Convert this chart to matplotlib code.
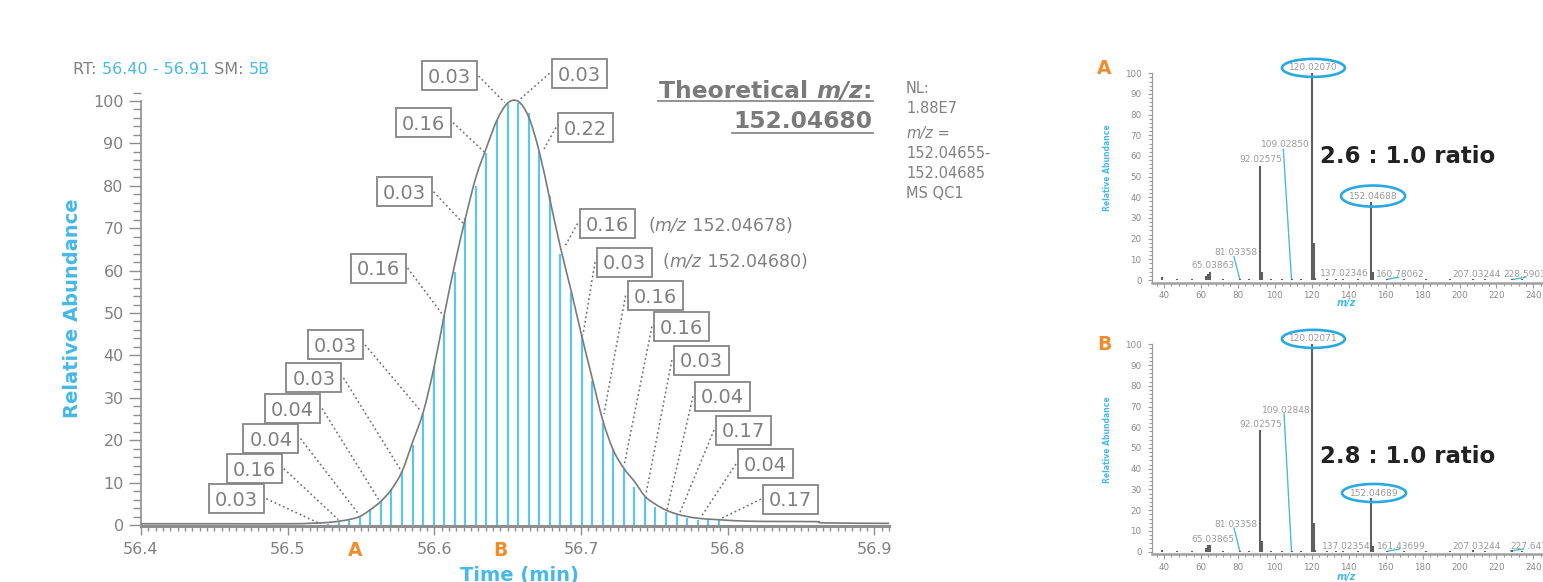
import matplotlib
matplotlib.use("Agg")
import matplotlib.pyplot as plt
from matplotlib.patches import Rectangle, Ellipse, PathPatch
from matplotlib.path import Path
from matplotlib.lines import Line2D
from matplotlib.ticker import MultipleLocator, FormatStrFormatter
from matplotlib.transforms import IdentityTransform, blended_transform_factory

plt.rcParams['font.family'] = ['DejaVu Sans']

# ---------------- extracted ion chromatogram ----------------
scan_time = [56.5275, 56.5347, 56.5419, 56.5491, 56.5563, 56.5635, 56.5707, 56.5779,
             56.5851, 56.5923, 56.5995, 56.6067, 56.6139, 56.6211, 56.6283, 56.6355,
             56.6427, 56.6499, 56.6571, 56.6643, 56.6715, 56.6787, 56.6859, 56.6931,
             56.7003, 56.7075, 56.7147, 56.7219, 56.7291, 56.7363, 56.7435, 56.7507,
             56.7579, 56.7651, 56.7723, 56.7795, 56.7867, 56.7939]
scan_intensity = [0.3, 0.6, 1.2, 1.9, 3.7, 5.5, 8.6, 12.6, 18.9, 26.3, 37.2, 49.5,
                  59.6, 72.3, 80.0, 87.8, 95.5, 99.5, 99.6, 97.2, 88.0, 77.5, 64.0,
                  54.9, 44.8, 34.0, 24.0, 18.0, 13.3, 8.9, 6.5, 4.2, 3.0, 2.4, 1.65,
                  1.2, 1.1, 1.4]

profile_time = [56.400, 56.450, 56.500, 56.515,
                56.5275, 56.5347, 56.5419, 56.5491, 56.5563, 56.5635, 56.5707, 56.5779,
                56.5851, 56.5923, 56.5995, 56.6067, 56.6139, 56.6211, 56.6283, 56.6355,
                56.6427, 56.6499,
                56.6571, 56.6643, 56.6715, 56.6787, 56.6859, 56.6931, 56.7003, 56.7075,
                56.7147, 56.7219, 56.7291, 56.7363, 56.7435, 56.7507, 56.7579, 56.7651,
                56.7723, 56.7795, 56.7867, 56.7939,
                56.806, 56.824, 56.860, 56.866, 56.910]
profile_intensity = [0.3, 0.3, 0.3, 0.4,
                     0.6, 0.9, 1.3, 2.0, 3.6, 5.6, 8.4, 12.6, 19.5, 26.5, 36.8, 49.5,
                     61.5, 72.3, 82.0, 89.0, 95.5, 99.5,
                     99.9, 96.2, 88.0, 76.8, 65.5, 55.4, 44.8, 34.7, 24.8, 17.7, 13.4,
                     10.3, 6.8, 4.9, 3.5, 2.6, 2.0, 1.6, 1.4, 1.25,
                     1.0, 0.85, 0.8, 0.5, 0.4]

# mass error (ppm) callouts on the rising and falling edge
left_box_labels = ["0.03", "0.16", "0.03", "0.16", "0.03", "0.03", "0.04", "0.04", "0.16", "0.03"]
left_box_time = [56.610, 56.5926, 56.5793, 56.5616, 56.5326, 56.5179, 56.5033, 56.4886, 56.4772, 56.4653]
left_box_level = [105.9, 94.9, 78.6, 60.6, 42.5, 34.7, 27.5, 20.4, 13.3, 6.2]
left_target_time = [56.6481, 56.6338, 56.6195, 56.6052, 56.5902, 56.5777, 56.5629, 56.5479, 56.5345, 56.5209]
left_target_level = [99.6, 88.0, 71.2, 49.8, 27.1, 12.6, 5.5, 2.8, 1.3, 0.5]

right_box_labels = ["0.03", "0.22", "0.16", "0.03", "0.16", "0.16", "0.03", "0.04", "0.17", "0.04", "0.17"]
right_box_time = [56.6986, 56.7030, 56.7177, 56.7296, 56.7504, 56.7684, 56.7820, 56.7964, 56.8107, 56.8257, 56.8427]
right_box_level = [106.5, 93.75, 71.1, 62.0, 54.1, 46.8, 38.9, 30.4, 22.4, 14.4, 6.1]
right_target_time = [56.6570, 56.6747, 56.6894, 56.7013, 56.7156, 56.7292, 56.7442, 56.7585, 56.7667, 56.7815, 56.7947]
right_target_level = [100.0, 88.7, 66.0, 44.8, 26.2, 13.9, 7.3, 3.5, 2.4, 1.8, 1.4]

spectrum_a_time = 56.546
spectrum_b_time = 56.645

# ---------------- MS spectra A and B ----------------
spec_mz = [38.9, 47.0, 55.0, 62.6, 63.6, 64.7, 72.0, 81.03, 86.0, 92.03,
           93.0, 98.0, 104.0, 109.03, 114.0, 120.02, 121.02, 122.0, 128.0, 133.0,
           137.02, 145.0, 152.05, 153.05, 160.78, 170.0, 182.0, 195.0, 207.03, 214.0,
           228.59, 234.0]
spec_a_int = [1.6, 0.4, 0.4, 2.0, 3.0, 4.0, 0.4, 0.5, 0.5, 55.3,
              4.0, 0.5, 0.4, 0.4, 0.4, 100.0, 17.8, 1.0, 0.5, 0.5,
              0.5, 0.4, 37.9, 3.7, 0.5, 0.4, 0.4, 0.5, 0.6, 0.5,
              0.6, 0.4]
spec_b_int = [0.6, 0.4, 0.4, 2.0, 3.0, 3.0, 0.4, 0.5, 0.5, 58.5,
              5.3, 0.5, 0.4, 0.4, 0.4, 100.0, 13.7, 1.0, 0.5, 0.5,
              0.5, 0.4, 25.8, 2.9, 0.5, 0.4, 0.4, 0.5, 0.6, 0.5,
              0.6, 0.4]

spec_a_labels = ["120.02070", "152.04688", "109.02850", "92.02575", "81.03358",
                 "65.03863", "137.02346", "160.78062", "207.03244", "228.59033"]
spec_a_label_mz = [120.9, 153.2, 105.5, 92.5, 78.8, 66.4, 137.8, 167.8, 209.3, 223.7]
spec_a_label_y = [102.6, 40.6, 65.6, 58.4, 13.1, 6.9, 3.2, 2.8, 2.8, 2.8]
spec_a_leader_from = [(104.6, 63.2), (77.9, 11.3), (160.6, 0.3), (229.0, 0.3)]
spec_a_leader_to = [(109.03, 0.3), (81.03, 0.3), (167.0, 1.3), (235.5, 1.3)]

spec_b_labels = ["120.02071", "152.04689", "109.02848", "92.02575", "81.03358",
                 "65.03865", "137.02354", "161.43699", "207.03244", "227.64722"]
spec_b_label_mz = [120.9, 153.7, 106.4, 92.5, 78.8, 66.4, 138.9, 168.7, 209.3, 227.6]
spec_b_label_y = [102.6, 28.3, 68.3, 61.1, 13.2, 6.0, 2.7, 2.7, 2.7, 2.7]
spec_b_leader_from = [(105.0, 66.4), (77.9, 11.4), (161.44, 0.3), (227.65, 0.3)]
spec_b_leader_to = [(109.03, 0.3), (81.03, 0.3), (167.5, 1.3), (234.5, 1.3)]

ratio_a = "2.6 : 1.0 ratio"
ratio_b = "2.8 : 1.0 ratio"

# ---------------- styling ----------------
W, H = 1543, 582
GRAY_TXT = '#808080'
AX_GRAY = '#8e8e8e'
BLUE = '#45b9e8'
STICK = '#5cc6f2'
ORANGE = '#f08c2c'
RING = '#29a9e0'
LEAD_CYAN = '#45bfd3'

fig = plt.figure(figsize=(W / 100, H / 100), dpi=100)
renderer = fig.canvas.get_renderer()


def measure(s, **kw):
    t = fig.text(0, 0, s, **kw)
    w = t.get_window_extent(renderer).width
    t.remove()
    return w


def run_text(x, y, pieces, align='left', size=11.5, weight='normal'):
    """Draw consecutive text pieces with their own colour/style; x, y in pixels from top-left."""
    widths = []
    for s, c, st in pieces:
        kw = dict(fontsize=size, fontweight=weight, fontstyle=st)
        widths.append(measure(s + '|', **kw) - measure('|', **kw))
    total = sum(widths)
    x0 = x - total if align == 'right' else x
    cur = x0
    for (s, c, st), w in zip(pieces, widths):
        fig.text(cur / W, 1 - y / H, s, color=c, fontsize=size, fontweight=weight,
                 fontstyle=st, ha='left', va='baseline')
        cur += w
    return x0, x0 + total


def hline_px(x0, x1, y, lw=1.3, color='#8a8a8a'):
    fig.add_artist(Line2D([x0, x1], [H - y, H - y], transform=IdentityTransform(),
                          color=color, lw=lw))


def smooth_path(xs, ys):
    """Smooth line through the given points (Catmull-Rom segments as cubic Beziers)."""
    n = len(xs)
    verts = [(xs[0], ys[0])]
    codes = [Path.MOVETO]
    for i in range(n - 1):
        a = i - 1 if i > 0 else i
        d = i + 2 if i + 2 < n else i + 1
        c1 = (xs[i] + (xs[i + 1] - xs[a]) / 6, ys[i] + (ys[i + 1] - ys[a]) / 6)
        c2 = (xs[i + 1] - (xs[d] - xs[i]) / 6, ys[i + 1] - (ys[d] - ys[i]) / 6)
        verts += [c1, c2, (xs[i + 1], ys[i + 1])]
        codes += [Path.CURVE4] * 3
    return Path(verts, codes)


# ---------------- chromatogram panel ----------------
ax = fig.add_axes([141 / W, (H - 526.3) / H, 751.1 / W, (526.3 - 92.5) / H])
ax.set_xlim(56.4, 56.912)
ax.set_ylim(-0.3, 102)
for side in ('top', 'right'):
    ax.spines[side].set_visible(False)
ax.spines['left'].set_bounds(-0.3, 100)
ax.spines['left'].set_color(AX_GRAY)
ax.spines['left'].set_linewidth(1.2)
ax.spines['bottom'].set_bounds(56.4, 56.91)
ax.spines['bottom'].set_color(AX_GRAY)
ax.spines['bottom'].set_linewidth(2.2)

ax.vlines(scan_time, 0, scan_intensity, color=STICK, lw=1.6, zorder=2)
ax.add_patch(PathPatch(smooth_path(profile_time, profile_intensity), fill=False,
                       edgecolor='#7a7a7a', lw=1.2, zorder=3))

ax.yaxis.set_major_locator(MultipleLocator(10))
ax.yaxis.set_minor_locator(MultipleLocator(2))
ax.xaxis.set_major_locator(MultipleLocator(0.1))
ax.xaxis.set_minor_locator(MultipleLocator(0.005))
ax.xaxis.set_major_formatter(FormatStrFormatter('%.1f'))
ax.tick_params(axis='y', which='major', length=9, width=1.0, color=AX_GRAY,
               labelsize=11.5, labelcolor=GRAY_TXT, pad=3.5)
ax.tick_params(axis='y', which='minor', length=5.5, width=1.0, color=AX_GRAY)
ax.tick_params(axis='x', which='major', length=6.5, width=1.0, color=AX_GRAY,
               labelsize=11.5, labelcolor=GRAY_TXT, pad=4.8)
ax.tick_params(axis='x', which='minor', length=3.4, width=1.0, color=AX_GRAY)

# spectrum markers under the time axis
bt = blended_transform_factory(ax.transData, ax.transAxes)
ax.text(spectrum_a_time, -0.055, "A", transform=bt, ha='center', va='center',
        color=ORANGE, fontsize=13.5, fontweight='bold', clip_on=False)
ax.text(spectrum_b_time, -0.055, "B", transform=bt, ha='center', va='center',
        color=ORANGE, fontsize=13.5, fontweight='bold', clip_on=False)

fig.text(73 / W, 1 - 308 / H, "Relative Abundance", rotation=90, ha='center', va='center',
         color=BLUE, fontsize=14, fontweight='bold')
fig.text(519 / W, 1 - 581 / H, "Time (min)", ha='center', va='baseline',
         color=BLUE, fontsize=14, fontweight='bold')

# ppm callout boxes with dotted leaders
BOX_W, BOX_H = 55, 29
CAP = 0.729 * 14 * 100 / 72


def callout(label, bt_, bv, tt, tv, side):
    X, Y = ax.transData.transform((bt_, bv))
    Xt, Yt = ax.transData.transform((tt, tv))
    fig.add_artist(Rectangle((X - BOX_W / 2, Y - BOX_H / 2), BOX_W, BOX_H,
                             transform=IdentityTransform(), facecolor='white',
                             edgecolor='#858585', lw=1.3, zorder=5))
    fig.text(X / W, (Y - CAP / 2) / H, label, ha='center', va='baseline',
             fontsize=14, color=GRAY_TXT, zorder=6)
    xs = X + BOX_W / 2 + 2 if side == 'left' else X - BOX_W / 2 - 2
    fig.add_artist(Line2D([xs, Xt], [Y, Yt], transform=IdentityTransform(),
                          color='#6e6e6e', lw=1.1, ls=(0, (1.2, 1.8)), zorder=4))


for lab, t0, v0, t1, v1 in zip(left_box_labels, left_box_time, left_box_level,
                               left_target_time, left_target_level):
    callout(lab, t0, v0, t1, v1, 'left')
for lab, t0, v0, t1, v1 in zip(right_box_labels, right_box_time, right_box_level,
                               right_target_time, right_target_level):
    callout(lab, t0, v0, t1, v1, 'right')

run_text(648, 230.7, [("(", GRAY_TXT, 'normal'), ("m/z", GRAY_TXT, 'italic'),
                      (" 152.04678)", GRAY_TXT, 'normal')], size=12.5)
run_text(663, 266.7, [("(", GRAY_TXT, 'normal'), ("m/z", GRAY_TXT, 'italic'),
                      (" 152.04680)", GRAY_TXT, 'normal')], size=12.5)

# header texts
run_text(73, 74.3, [("RT: ", GRAY_TXT, 'normal'), ("56.40 - 56.91", BLUE, 'normal'),
                    (" SM: ", GRAY_TXT, 'normal'), ("5B", BLUE, 'normal')], size=11.5)

x0, x1 = run_text(872, 97.5, [("Theoretical ", '#7a7a7a', 'normal'), ("m/z", '#7a7a7a', 'italic'),
                              (":", '#7a7a7a', 'normal')], align='right', size=16.8, weight='bold')
hline_px(x0 - 1, x1 + 1, 100.7)
x0, x1 = run_text(872, 128.3, [("152.04680", '#7a7a7a', 'normal')], align='right', size=16.8, weight='bold')
hline_px(x0 - 1, x1 + 1, 133.3)

NL_SIZE = 10.5
run_text(906, 93.3, [("NL:", GRAY_TXT, 'normal')], size=NL_SIZE)
run_text(906, 113.3, [("1.88E7", GRAY_TXT, 'normal')], size=NL_SIZE)
run_text(906, 138.0, [("m/z", GRAY_TXT, 'italic'), (" =", GRAY_TXT, 'normal')], size=NL_SIZE)
run_text(906, 158.0, [("152.04655-", GRAY_TXT, 'normal')], size=NL_SIZE)
run_text(906, 178.0, [("152.04685", GRAY_TXT, 'normal')], size=NL_SIZE)
run_text(906, 198.0, [("MS QC1", GRAY_TXT, 'normal')], size=NL_SIZE)


# ---------------- spectra panels ----------------
def spectrum(top_px, bottom_px, intens, labels, lab_mz, lab_y, lead_from, lead_to,
             ring_sizes, ratio, ratio_y, tag, tag_y, ylab_y, mz_y):
    sa = fig.add_axes([1152 / W, (H - bottom_px) / H, (W - 1152) / W, (bottom_px - top_px) / H])
    sa.set_xlim(33.5, 245.2)
    sa.set_ylim(-1.3, 101)
    for side in ('top', 'right'):
        sa.spines[side].set_visible(False)
    sa.spines['left'].set_bounds(-1.3, 100)
    sa.spines['left'].set_color('#9a9a9a')
    sa.spines['left'].set_linewidth(0.9)
    sa.spines['bottom'].set_color('#a0a0a0')
    sa.spines['bottom'].set_linewidth(1.8)
    sa.vlines(spec_mz, 0, intens, color='#5f5f5f', lw=1.5, zorder=3)
    sa.yaxis.set_major_locator(MultipleLocator(10))
    sa.yaxis.set_minor_locator(MultipleLocator(2))
    sa.xaxis.set_major_locator(MultipleLocator(20))
    sa.xaxis.set_minor_locator(MultipleLocator(4))
    sa.tick_params(axis='y', which='major', length=3, width=0.8, color='#9a9a9a',
                   labelsize=6.3, labelcolor='#8a8a8a', pad=4.5)
    sa.tick_params(axis='y', which='minor', length=2, width=0.8, color='#9a9a9a')
    sa.tick_params(axis='x', which='major', length=3.5, width=0.8, color='#9a9a9a',
                   labelsize=6.3, labelcolor='#8a8a8a', pad=2.5)
    sa.tick_params(axis='x', which='minor', length=2, width=0.8, color='#9a9a9a')

    for i, (s, mx, my) in enumerate(zip(labels, lab_mz, lab_y)):
        ha = 'left' if i == len(labels) - 1 else 'center'
        sa.text(mx, my, s, ha=ha, va='center', fontsize=6.5, color='#999999',
                zorder=4, clip_on=False)
    for (fx_, fy_), (tx_, ty_) in zip(lead_from, lead_to):
        sa.plot([fx_, tx_], [fy_, ty_], color=LEAD_CYAN, lw=1.0, zorder=2, clip_on=False)
    for k, (w_, h_) in enumerate(ring_sizes):
        sa.add_patch(Ellipse((lab_mz[k], lab_y[k]), w_, h_, fill=False, edgecolor=RING,
                             lw=1.9, zorder=5, clip_on=False))

    fig.text(1320 / W, 1 - ratio_y / H, ratio, ha='left', va='center', fontsize=16.5,
             fontweight='bold', color='#222222')
    fig.text(1104 / W, 1 - tag_y / H, tag, ha='center', va='center', fontsize=13.5,
             fontweight='bold', color=ORANGE)
    fig.text(1108 / W, 1 - ylab_y / H, "Relative Abundance", rotation=90, ha='center',
             va='center', fontsize=5.5, fontweight='bold', color=BLUE)
    fig.text(1346 / W, 1 - mz_y / H, "m/z", ha='center', va='center', fontsize=7,
             fontweight='bold', fontstyle='italic', color=BLUE)


spectrum(71.2, 282.7, spec_a_int, spec_a_labels, spec_a_label_mz, spec_a_label_y,
         spec_a_leader_from, spec_a_leader_to, [(34.1, 8.7), (34.7, 10.2)],
         ratio_a, 157, "A", 68, 168, 303)
spectrum(342.2, 554.4, spec_b_int, spec_b_labels, spec_b_label_mz, spec_b_label_y,
         spec_b_leader_from, spec_b_leader_to, [(34.1, 8.7), (34.7, 8.7)],
         ratio_b, 456.7, "B", 345, 440, 577)

fig.savefig("out.png", dpi=100)
